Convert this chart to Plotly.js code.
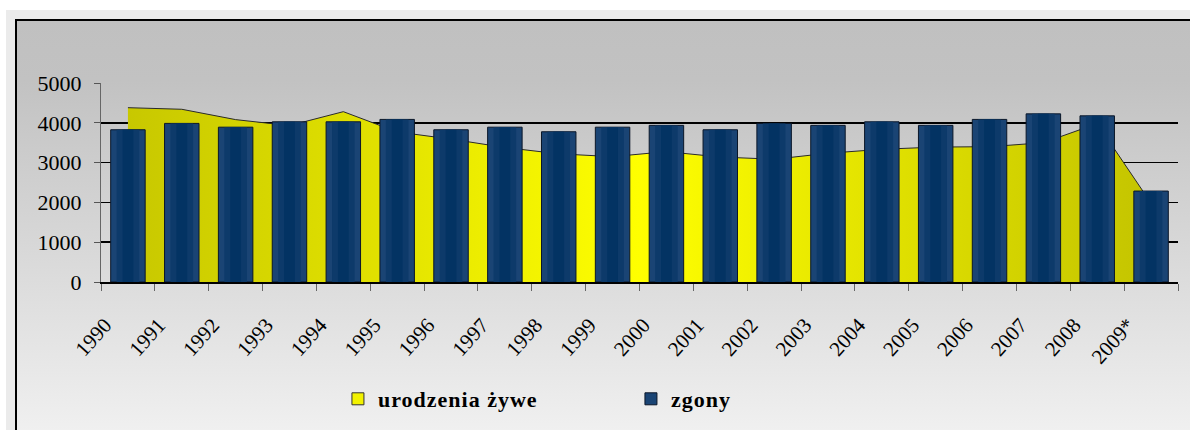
<!DOCTYPE html>
<html>
<head>
<meta charset="utf-8">
<script src="https://cdn.plot.ly/plotly-3.0.1.min.js"></script>
<style>
  html, body { margin: 0; padding: 0; background: #ffffff; width: 1190px; height: 430px; overflow: hidden; }
  #outer { position: absolute; left: 6px; top: 10px; width: 1184px; height: 420px; background: #ebebeb; }
  #frame { position: absolute; left: 15px; top: 19px; width: 1175px; height: 430px;
           border-top: 2px solid #000; border-left: 2px solid #000;
           background: linear-gradient(to bottom, #c0c0c0 0px, #c2c2c2 60px, #f0f0f0 411px); }
  #chart { position: absolute; left: 0; top: 0; width: 1190px; height: 430px; }
  .legendtext { letter-spacing: 1px; }
</style>
</head>
<body>
<div id="outer"></div>
<div id="frame"></div>
<div id="chart"></div>
<script>
// ---- data ----
const years = ["1990","1991","1992","1993","1994","1995","1996","1997","1998","1999",
               "2000","2001","2002","2003","2004","2005","2006","2007","2008","2009*"];
const births = [4380, 4340, 4080, 3930, 4280, 3770, 3590, 3380, 3220, 3150,
                3275, 3140, 3085, 3235, 3335, 3390, 3400, 3500, 3980, 1980];
const deaths = [3825, 3985, 3890, 4025, 4025, 4085, 3825, 3890, 3775, 3890,
                3935, 3825, 3985, 3935, 4025, 3935, 4085, 4225, 4175, 2285];
const yTicks = [0, 1000, 2000, 3000, 4000, 5000];
const birthsName = "urodzenia żywe";
const deathsName = "zgony";

const serif = '"Liberation Serif", "Times New Roman", Times, serif';

const traces = [
  {
    type: "scatter", mode: "lines", x: years, y: births, xaxis: "x", yaxis: "y",
    fill: "tozeroy",
    fillgradient: { type: "horizontal",
      colorscale: [[0, "#c8c800"], [0.25, "#e2e200"], [0.5, "#ffff00"], [0.75, "#e0e000"], [1, "#c4c400"]] },
    line: { color: "#2a2a2a", width: 1 },
    showlegend: false, hoverinfo: "skip"
  },
  {
    type: "bar", x: [years[0]], y: [null], name: birthsName, xaxis: "x", yaxis: "y2",
    marker: { color: "#f2f200", line: { color: "#333333", width: 1 } },
    hoverinfo: "skip"
  },
  {
    type: "bar", x: years, y: deaths, name: deathsName, width: 0.64, xaxis: "x", yaxis: "y2",
    marker: { color: "#1a4474", line: { color: "#0a1628", width: 1 } },
    hoverinfo: "skip"
  },
  {
    type: "bar", x: years, y: deaths, width: 0.42, showlegend: false, xaxis: "x", yaxis: "y2",
    marker: { color: "#0d3a6a", line: { width: 0 } }, hoverinfo: "skip"
  },
  {
    type: "bar", x: years, y: deaths, width: 0.2, showlegend: false, xaxis: "x", yaxis: "y2",
    marker: { color: "#033363", line: { width: 0 } }, hoverinfo: "skip"
  }
];

const layout = {
  width: 1190, height: 430,
  margin: { l: 101, r: 12, t: 83, b: 147, pad: 0 },
  paper_bgcolor: "rgba(0,0,0,0)",
  plot_bgcolor: "rgba(0,0,0,0)",
  barmode: "overlay",
  showlegend: true,
  font: { family: serif, color: "#000000" },
  xaxis: {
    type: "category", tickson: "boundaries",
    ticks: "outside", ticklen: 7, tickcolor: "#666666", tickwidth: 1,
    showline: true, linecolor: "#000000", linewidth: 1.5,
    showgrid: false, zeroline: false,
    tickangle: -48, ticklabelshift: -23, ticklabelstandoff: 21,
    tickfont: { family: serif, size: 21, color: "#000000" },
    fixedrange: true
  },
  yaxis: {
    range: [0, 5000], tickvals: yTicks, ticktext: yTicks.map(String),
    ticks: "outside", ticklen: 6, tickcolor: "#555555",
    showline: true, linecolor: "#666666", linewidth: 1,
    showgrid: true, gridcolor: "#000000", gridwidth: 1.5,
    zeroline: false, ticklabelstandoff: 8,
    tickfont: { family: serif, size: 22, color: "#000000" },
    fixedrange: true
  },
  yaxis2: {
    overlaying: "y", range: [0, 5000], visible: false, showgrid: false, zeroline: false,
    fixedrange: true
  },
  legend: {
    orientation: "h", x: 0.22, xanchor: "left", y: -0.58, yanchor: "middle",
    bgcolor: "rgba(0,0,0,0)", traceorder: "normal",
    entrywidth: 248, entrywidthmode: "pixels",
    font: { family: serif, size: 22, weight: "bold", color: "#000000" }
  }
};

Plotly.newPlot("chart", traces, layout, { staticPlot: true, displayModeBar: false });
</script>
</body>
</html>
